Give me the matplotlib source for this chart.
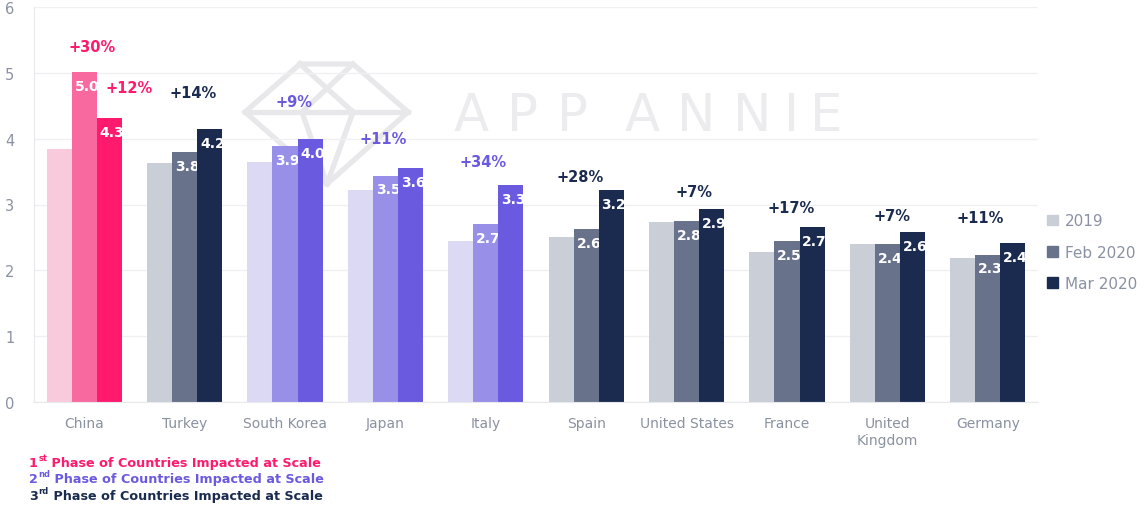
import matplotlib.pyplot as plt
import matplotlib.lines as mlines
from matplotlib.patches import Patch
import numpy as np

countries = ["China", "Turkey", "South Korea", "Japan", "Italy", "Spain",
             "United States", "France", "United\nKingdom", "Germany"]
v2019 = [3.85, 3.63, 3.65, 3.22, 2.45, 2.51, 2.74, 2.28, 2.40, 2.19]
v_feb = [5.01, 3.80, 3.89, 3.44, 2.71, 2.63, 2.75, 2.45, 2.40, 2.24]
v_mar = [4.32, 4.14, 3.99, 3.56, 3.29, 3.22, 2.93, 2.66, 2.58, 2.42]
feb_labels = ["5.0", "3.8", "3.9", "3.5", "2.7", "2.6", "2.8", "2.5", "2.4", "2.3"]
mar_labels = ["4.3", "4.2", "4.0", "3.6", "3.3", "3.2", "2.9", "2.7", "2.6", "2.4"]
phase = [1, 3, 2, 2, 2, 3, 3, 3, 3, 3]
growth = ["+30%", "+12%", "+14%", "+9%", "+11%", "+34%", "+28%", "+7%", "+17%", "+7%", "+11%"]
growth_country = [0, 0, 1, 2, 3, 4, 5, 6, 7, 8, 9]
series_names = ["2019", "Feb 2020", "Mar 2020"]

# label placement (data coords)
growth_xy = [(0.08, 5.40), (0.45, 4.77), (1.08, 4.70), (2.09, 4.56), (2.98, 4.01),
             (3.97, 3.65), (4.94, 3.43), (6.07, 3.19), (7.04, 2.96), (8.05, 2.83),
             (8.92, 2.81)]

palette = {
    1: ["#F9C9DC", "#F86A9F", "#FF1A6E"],
    2: ["#DCD9F5", "#9890E8", "#6A5AE0"],
    3: ["#C9CED7", "#68728A", "#1B2B50"],
}
accent = {1: "#FF1A6E", 2: "#6A5AE0", 3: "#1B2B50"}
gray_txt = "#8A91A0"

fig = plt.figure(figsize=(11.47, 5.10), dpi=100)
ax = fig.add_axes([34 / 1147, 1 - 403 / 510, (1038 - 34) / 1147, 395 / 510])

# watermark (logo + wordmark, in pixels of the figure)
wm_letters = "APPANNIE"
wm_x = [471, 522, 572, 642, 696, 752, 792, 826]
for ch, px in zip(wm_letters, wm_x):
    fig.text(px / 1147, 1 - 117 / 510, ch, fontsize=37, color="#ECECEF",
             ha="center", va="center", zorder=0)
wm = [[(300, 65), (353, 65), (408, 113), (327, 185), (245, 113), (300, 65)],
      [(300, 65), (353, 113)], [(353, 65), (302, 113)],
      [(245, 113), (408, 113)], [(302, 113), (327, 185)], [(353, 113), (327, 185)]]
for seg in wm:
    xs = [p[0] / 1147 for p in seg]
    ys = [1 - p[1] / 510 for p in seg]
    fig.add_artist(mlines.Line2D(xs, ys, color="#E8E8EB", lw=3.8,
                                 solid_joinstyle="miter", zorder=0))
ax.set_facecolor("none")

x = np.arange(len(countries))
w = 0.25
for i in range(len(countries)):
    cols = palette[phase[i]]
    vals = [v2019[i], v_feb[i], v_mar[i]]
    bars = []
    for k in range(3):
        b = ax.bar(x[i] + (k - 1) * w, vals[k], w, color=cols[k], zorder=2)[0]
        bars.append(b)
    for k, lab in [(1, feb_labels[i]), (2, mar_labels[i])]:
        b = bars[k]
        t = ax.annotate(lab, (b.get_x(), b.get_height()), xytext=(2, -5),
                        textcoords="offset points", ha="left", va="top",
                        color="white", fontsize=10, fontweight="bold", zorder=3)
        t.set_clip_path(b)

for j, lab in enumerate(growth):
    ci = growth_country[j]
    ax.text(growth_xy[j][0], growth_xy[j][1], lab, ha="center", va="center",
            fontsize=10.5, fontweight="bold", color=accent[phase[ci]], zorder=4)

ax.set_xlim(-0.5, len(countries) - 0.5)
ax.set_ylim(0, 6)
ax.set_yticks(range(7))
ax.yaxis.grid(True, color="#F0F0F2", lw=1)
ax.set_axisbelow(True)
ax.set_xticks(x)
ax.set_xticklabels(countries, fontsize=10, color=gray_txt, linespacing=1.3)
ax.tick_params(axis="both", length=0, colors=gray_txt, labelsize=10.5)
ax.tick_params(axis="x", pad=10, labelsize=10)
ax.tick_params(axis="y", pad=14)
for s in ["top", "right"]:
    ax.spines[s].set_visible(False)
for s in ["left", "bottom"]:
    ax.spines[s].set_color("#E8E9EC")

handles = [Patch(color=palette[3][k]) for k in range(3)]
fig.legend(handles, series_names, loc="center left",
           bbox_to_anchor=(1047 / 1147, 1 - 253 / 510), frameon=False,
           borderpad=0, borderaxespad=0,
           handlelength=0.7, handleheight=0.7, handletextpad=0.45,
           labelspacing=1.05, fontsize=11, labelcolor=gray_txt)

# footnotes with superscript ordinals
notes = [("1", "st", 1), ("2", "nd", 2), ("3", "rd", 3)]
for n, (num, sup, p) in enumerate(notes):
    c = accent[p]
    t1 = fig.text(29 / 1147, 1 - (467 + n * 16.5) / 510, num, fontsize=9.2,
                  fontweight="bold", color=c, va="baseline")
    t2 = ax.annotate(sup, xy=(1, 1), xycoords=t1, xytext=(0.4, 2.2),
                     textcoords="offset points", fontsize=6, fontweight="bold",
                     color=c, ha="left", va="top", annotation_clip=False)
    ax.annotate(" Phase of Countries Impacted at Scale", xy=(1, 0),
                xycoords=(t2, t1), fontsize=9.2, fontweight="bold", color=c,
                ha="left", va="bottom", annotation_clip=False)

fig.savefig("out.png", dpi=100)
